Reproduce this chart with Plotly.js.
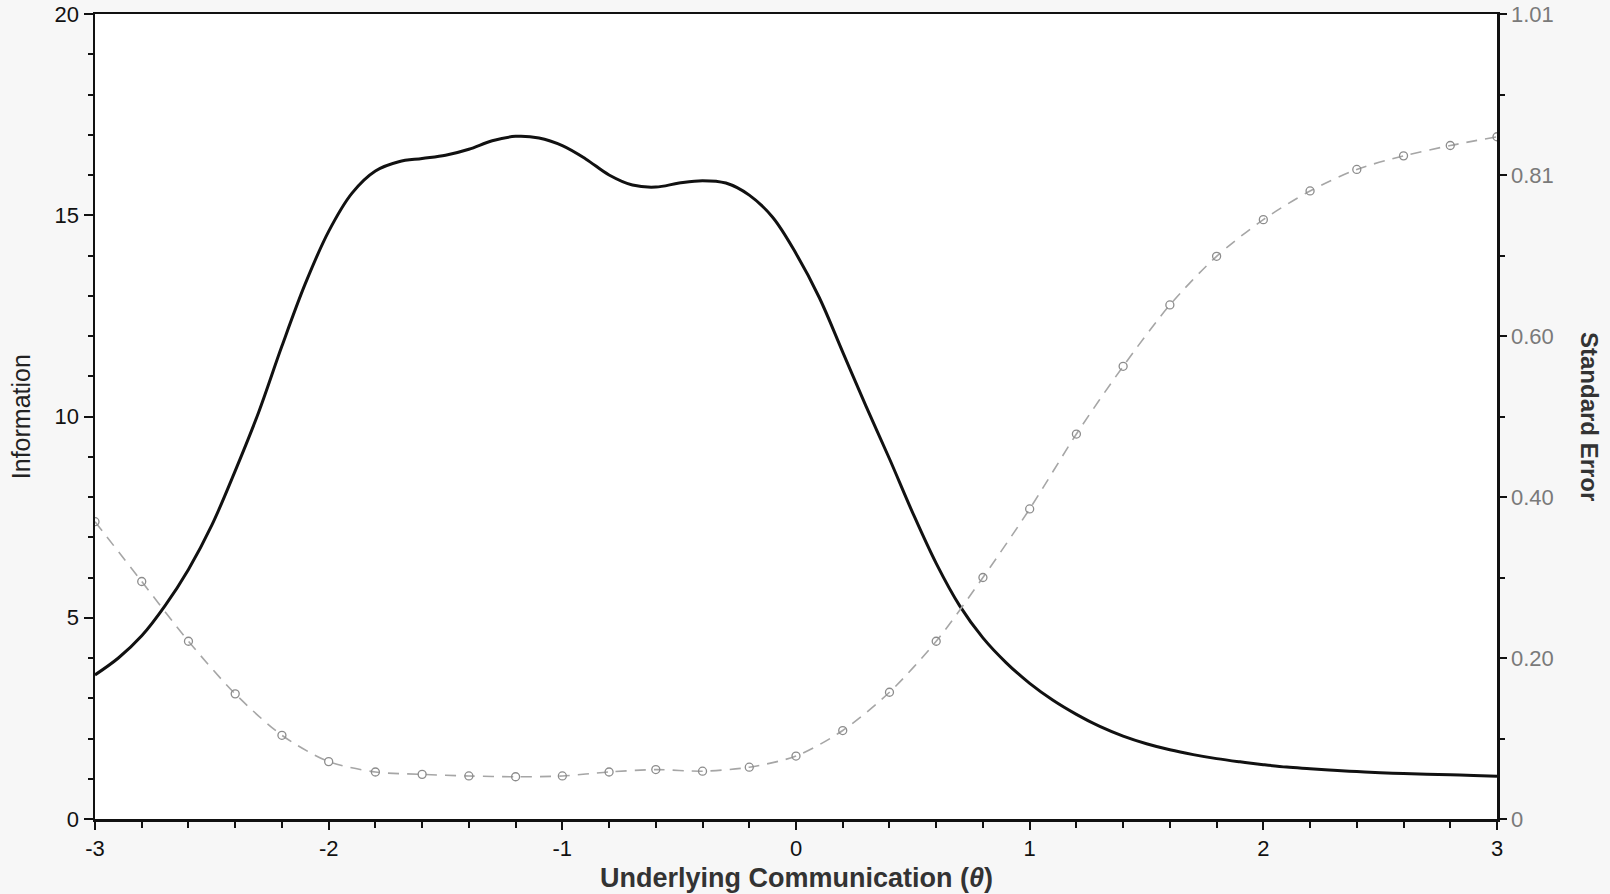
<!DOCTYPE html>
<html>
<head>
<meta charset="utf-8">
<script src="https://cdn.plot.ly/plotly-3.0.1.min.js"></script>
<style>
html,body{margin:0;padding:0;background:#f7f7f7;}
#chart{width:1610px;height:894px;}
</style>
</head>
<body>
<div id="chart"></div>
<script>
// Test information curve (theta step 0.1)
const thetaInfo = [-3.0,-2.9,-2.8,-2.7,-2.6,-2.5,-2.4,-2.3,-2.2,-2.1,-2.0,-1.9,-1.8,-1.7,-1.6,-1.5,-1.4,-1.3,-1.2,-1.1,-1.0,-0.9,-0.8,-0.7,-0.6,-0.5,-0.4,-0.3,-0.2,-0.1,0.0,0.1,0.2,0.3,0.4,0.5,0.6,0.7,0.8,0.9,1.0,1.1,1.2,1.3,1.4,1.5,1.6,1.7,1.8,1.9,2.0,2.1,2.2,2.3,2.4,2.5,2.6,2.7,2.8,2.9,3.0];
const information = [3.58,4.0,4.55,5.3,6.2,7.3,8.65,10.1,11.75,13.3,14.6,15.55,16.1,16.33,16.41,16.49,16.64,16.85,16.96,16.92,16.73,16.4,16.0,15.75,15.7,15.8,15.86,15.8,15.5,14.95,14.05,12.95,11.6,10.25,8.95,7.6,6.35,5.3,4.5,3.88,3.37,2.95,2.6,2.3,2.06,1.87,1.72,1.6,1.5,1.42,1.35,1.29,1.25,1.21,1.18,1.15,1.13,1.11,1.1,1.08,1.06];

// Standard error (theta step 0.2)
const thetaSE = [-3.0,-2.8,-2.6,-2.4,-2.2,-2.0,-1.8,-1.6,-1.4,-1.2,-1.0,-0.8,-0.6,-0.4,-0.2,0.0,0.2,0.4,0.6,0.8,1.0,1.2,1.4,1.6,1.8,2.0,2.2,2.4,2.6,2.8,3.0];
const standardError = [0.373,0.298,0.223,0.157,0.105,0.072,0.059,0.056,0.054,0.053,0.054,0.059,0.062,0.060,0.065,0.079,0.111,0.159,0.223,0.303,0.389,0.483,0.568,0.645,0.706,0.752,0.788,0.815,0.832,0.845,0.856];

// Axis ticks
const xTickVals = [-3,-2,-1,0,1,2,3];
const xTickText = ['-3','-2','-1','0','1','2','3'];
const leftTicks = [0,5,10,15,20];
const rightTickVals = [0,0.202,0.404,0.606,0.808,1.01];
const rightTickText = ['0','0.20','0.40','0.60','0.81','1.01'];

const FONT = 'Liberation Sans, Arial, sans-serif';

const traces = [
  {
    x: thetaSE, y: standardError, yaxis: 'y2', type: 'scatter', mode: 'lines+markers',
    line: {color: '#a6a6a6', width: 1.6, dash: '11px,8px', shape: 'spline', smoothing: 0.8},
    marker: {symbol: 'circle-open', size: 8, color: '#8c8c8c', line: {width: 1.3, color: '#8c8c8c'}},
    hoverinfo: 'x+y', showlegend: false
  },
  {
    x: thetaInfo, y: information, type: 'scatter', mode: 'lines',
    line: {color: '#111111', width: 3, shape: 'spline', smoothing: 1},
    hoverinfo: 'x+y', showlegend: false
  }
];

const layout = {
  width: 1610, height: 894,
  paper_bgcolor: '#f7f7f7',
  plot_bgcolor: '#ffffff',
  margin: {l: 95, r: 113, t: 14, b: 75, pad: 0},
  font: {family: FONT, size: 22, color: '#111'},
  xaxis: {
    range: [-3, 3], tickmode: 'array', tickvals: xTickVals, ticktext: xTickText,
    ticks: 'outside', ticklen: 8, tickwidth: 2, tickcolor: '#111',
    minor: {dtick: 0.2, tick0: 0, ticks: 'outside', ticklen: 6, tickwidth: 2, tickcolor: '#111'},
    showline: true, linecolor: '#111', linewidth: 2.5, mirror: true,
    showgrid: false, zeroline: false,
    tickfont: {family: FONT, size: 22, color: '#111'},
    automargin: false
  },
  yaxis: {
    range: [0, 20], tickmode: 'array', tickvals: leftTicks,
    ticks: 'outside', ticklen: 9, tickwidth: 2, tickcolor: '#111',
    minor: {dtick: 1, tick0: 0, ticks: 'outside', ticklen: 5, tickwidth: 2, tickcolor: '#111'},
    showline: true, linecolor: '#111', linewidth: 2.5,
    showgrid: false, zeroline: false,
    tickfont: {family: FONT, size: 22, color: '#111'},
    automargin: false
  },
  yaxis2: {
    overlaying: 'y', side: 'right', anchor: 'x',
    range: [0, 1.01], tickmode: 'array', tickvals: rightTickVals, ticktext: rightTickText,
    ticks: 'outside', ticklen: 7, tickwidth: 2, tickcolor: '#111',
    minor: {dtick: 0.101, tick0: 0, ticks: 'outside', ticklen: 5, tickwidth: 2, tickcolor: '#111'},
    showline: true, linecolor: '#111', linewidth: 2.5,
    showgrid: false, zeroline: false,
    tickfont: {family: FONT, size: 22, color: '#7a7a7a'},
    automargin: false
  },
  annotations: [
    {text: 'Information', xref: 'paper', yref: 'paper', x: -0.053, y: 0.5,
     xanchor: 'center', yanchor: 'middle', textangle: -90, showarrow: false,
     font: {family: FONT, size: 25, color: '#222'}},
    {text: '<b>Standard Error</b>', xref: 'paper', yref: 'paper', x: 1.066, y: 0.5,
     xanchor: 'center', yanchor: 'middle', textangle: 90, showarrow: false,
     font: {family: FONT, size: 24, color: '#333'}},
    {text: '<b>Underlying Communication (<i>θ</i>)</b>', xref: 'paper', yref: 'paper', x: 0.5, y: 0,
     xanchor: 'center', yanchor: 'top', yshift: -42, showarrow: false,
     font: {family: FONT, size: 27, color: '#333'}}
  ]
};

Plotly.newPlot('chart', traces, layout, {displayModeBar: false, staticPlot: true});
</script>
</body>
</html>
